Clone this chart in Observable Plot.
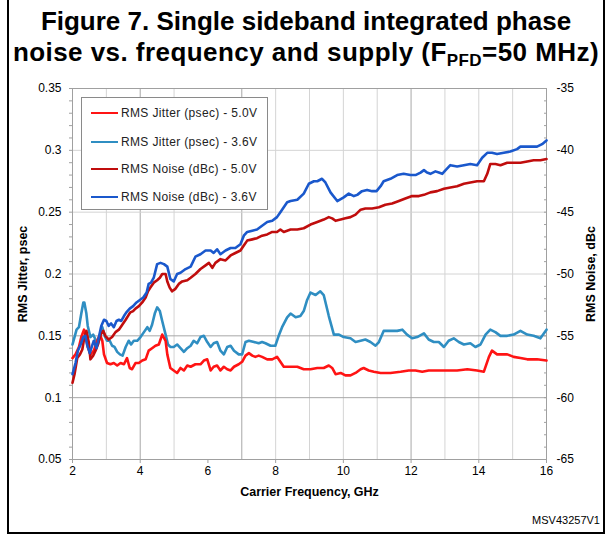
<!DOCTYPE html>
<html>
<head>
<meta charset="utf-8">
<script src="https://cdn.jsdelivr.net/npm/d3@7"></script>
<script src="https://cdn.jsdelivr.net/npm/@observablehq/plot@0.6"></script>
<style>
  html, body { margin: 0; padding: 0; background: #fff; }
  #wrap { position: relative; width: 612px; height: 536px; overflow: hidden; font-family: "Liberation Sans", Arial, sans-serif; }
  #border { position: absolute; left: 7px; top: -10px; width: 594px; height: 540px; border: 2px solid #000; box-sizing: content-box; }
  #title { position: absolute; left: 0; top: 6px; width: 612px; text-align: center; font-weight: bold; font-size: 26px; line-height: 31px; color: #000; white-space: nowrap; }
  #title .l2 { letter-spacing: 0.45px; }
  #title sub { font-size: 17px; vertical-align: -5px; line-height: 0; }
  #chart { position: absolute; left: 0; top: 70px; }
  #legend { position: absolute; left: 81px; top: 97px; width: 185px; height: 111px; border: 1px solid #8a8a8a; background: #fff; font-size: 12px; letter-spacing: 0.35px; color: #222; }
  .entry { position: absolute; left: 9px; height: 14px; line-height: 14px; white-space: nowrap; }
  .swatch { display: inline-block; width: 27px; height: 0; border-top: 2.5px solid; vertical-align: middle; margin-right: 3px; position: relative; top: -1px; }
  #code { position: absolute; right: 12px; top: 514px; font-size: 11px; color: #000; }
</style>
</head>
<body>
<div id="wrap">
  <div id="border"></div>
  <div id="title"><div>Figure 7. Single sideband integrated phase</div><div class="l2">noise vs. frequency and supply (F<sub>PFD</sub>=50 MHz)</div></div>
  <div id="chart"></div>
  <div id="legend"></div>
  <div id="code">MSV43257V1</div>
</div>
<script>
// ---------- data ----------
const seriesNames = ["RMS Jitter (psec) - 5.0V", "RMS Jitter (psec) - 3.6V", "RMS Noise (dBc) - 5.0V", "RMS Noise (dBc) - 3.6V"];
const seriesColors = ["#ff1414", "#2f8ec2", "#c00d0d", "#1a58cc"];

// [GHz, psec]
const jitter50 = [[2.00,0.132],[2.09,0.135],[2.19,0.141],[2.26,0.149],[2.34,0.155],[2.38,0.151],[2.45,0.141],[2.53,0.135],[2.63,0.138],[2.73,0.146],[2.81,0.151],[2.88,0.146],[2.93,0.135],[3.02,0.128],[3.12,0.127],[3.22,0.128],[3.32,0.126],[3.42,0.128],[3.52,0.127],[3.61,0.132],[3.69,0.124],[3.76,0.123],[3.86,0.128],[3.96,0.128],[4.06,0.130],[4.16,0.131],[4.25,0.138],[4.35,0.140],[4.45,0.142],[4.55,0.143],[4.65,0.151],[4.75,0.146],[4.80,0.135],[4.89,0.124],[4.99,0.122],[5.09,0.120],[5.19,0.124],[5.29,0.122],[5.39,0.126],[5.49,0.125],[5.63,0.127],[5.78,0.127],[5.88,0.130],[5.98,0.131],[6.08,0.122],[6.17,0.125],[6.27,0.126],[6.37,0.122],[6.47,0.125],[6.57,0.123],[6.67,0.122],[6.77,0.125],[6.91,0.127],[7.01,0.129],[7.11,0.134],[7.21,0.136],[7.31,0.134],[7.40,0.133],[7.50,0.134],[7.60,0.133],[7.75,0.131],[7.90,0.131],[8.04,0.133],[8.14,0.129],[8.24,0.125],[8.39,0.125],[8.64,0.125],[8.83,0.123],[9.03,0.123],[9.23,0.124],[9.42,0.124],[9.57,0.126],[9.67,0.124],[9.77,0.119],[9.92,0.120],[10.06,0.118],[10.21,0.118],[10.36,0.120],[10.51,0.123],[10.60,0.124],[10.75,0.122],[10.90,0.121],[11.10,0.120],[11.39,0.120],[11.69,0.121],[11.93,0.122],[12.13,0.122],[12.33,0.121],[12.52,0.122],[12.77,0.122],[13.06,0.122],[13.36,0.122],[13.66,0.123],[13.95,0.122],[14.15,0.121],[14.30,0.133],[14.39,0.138],[14.54,0.135],[14.69,0.135],[14.84,0.135],[15.03,0.133],[15.23,0.132],[15.43,0.131],[15.72,0.131],[16.00,0.130]];

const jitter36 = [[2.00,0.143],[2.06,0.149],[2.12,0.155],[2.19,0.157],[2.26,0.168],[2.32,0.177],[2.35,0.177],[2.41,0.168],[2.45,0.158],[2.53,0.149],[2.61,0.151],[2.68,0.147],[2.75,0.143],[2.81,0.149],[2.88,0.157],[2.95,0.150],[3.02,0.146],[3.10,0.146],[3.17,0.142],[3.24,0.141],[3.32,0.137],[3.40,0.135],[3.48,0.134],[3.57,0.141],[3.66,0.146],[3.73,0.143],[3.81,0.146],[3.91,0.146],[4.01,0.149],[4.11,0.153],[4.21,0.157],[4.28,0.154],[4.35,0.159],[4.43,0.168],[4.50,0.173],[4.58,0.170],[4.65,0.162],[4.75,0.151],[4.82,0.143],[4.89,0.141],[4.99,0.141],[5.09,0.143],[5.19,0.140],[5.29,0.137],[5.39,0.140],[5.49,0.142],[5.58,0.146],[5.68,0.144],[5.78,0.149],[5.88,0.150],[5.98,0.145],[6.08,0.141],[6.17,0.144],[6.27,0.145],[6.37,0.138],[6.47,0.135],[6.57,0.141],[6.67,0.142],[6.77,0.138],[6.91,0.135],[7.01,0.135],[7.11,0.145],[7.21,0.146],[7.36,0.145],[7.50,0.144],[7.60,0.145],[7.70,0.144],[7.85,0.142],[7.99,0.142],[8.09,0.150],[8.19,0.157],[8.34,0.165],[8.44,0.168],[8.59,0.165],[8.73,0.166],[8.83,0.170],[8.93,0.179],[9.03,0.185],[9.18,0.183],[9.32,0.186],[9.42,0.183],[9.57,0.166],[9.72,0.151],[9.87,0.151],[10.01,0.149],[10.21,0.148],[10.36,0.145],[10.51,0.146],[10.65,0.147],[10.80,0.145],[10.95,0.142],[11.05,0.145],[11.19,0.154],[11.39,0.154],[11.59,0.154],[11.74,0.155],[11.88,0.151],[12.03,0.148],[12.18,0.149],[12.38,0.152],[12.52,0.147],[12.67,0.145],[12.82,0.145],[12.97,0.141],[13.11,0.146],[13.26,0.148],[13.41,0.145],[13.56,0.143],[13.75,0.144],[13.90,0.141],[14.05,0.143],[14.20,0.151],[14.34,0.155],[14.49,0.153],[14.64,0.150],[14.84,0.150],[15.03,0.151],[15.23,0.154],[15.43,0.151],[15.62,0.150],[15.82,0.148],[16.00,0.155]];

// [GHz, dBc]
const noise50 = [[2.00,-58.8],[2.06,-58.1],[2.14,-56.8],[2.22,-56.5],[2.29,-56.1],[2.35,-55.1],[2.41,-54.6],[2.48,-55.5],[2.53,-56.9],[2.61,-56.6],[2.68,-56.2],[2.75,-55.7],[2.83,-54.9],[2.91,-54.6],[2.97,-55.0],[3.07,-55.3],[3.17,-55.1],[3.27,-54.7],[3.37,-54.5],[3.47,-54.1],[3.57,-53.7],[3.66,-53.3],[3.71,-53.1],[3.79,-53.0],[3.86,-52.8],[3.96,-52.6],[4.06,-52.3],[4.16,-51.9],[4.23,-51.4],[4.30,-51.1],[4.40,-50.7],[4.50,-50.5],[4.58,-50.3],[4.65,-50.0],[4.75,-50.0],[4.80,-50.6],[4.87,-51.1],[4.94,-51.4],[5.04,-51.2],[5.14,-50.8],[5.24,-50.6],[5.39,-50.5],[5.49,-50.3],[5.63,-50.0],[5.78,-49.6],[5.93,-49.3],[6.03,-49.1],[6.13,-49.5],[6.22,-49.1],[6.37,-48.8],[6.52,-48.9],[6.67,-48.5],[6.81,-48.3],[6.96,-48.1],[7.06,-47.7],[7.16,-47.3],[7.31,-47.2],[7.45,-47.1],[7.60,-46.9],[7.75,-46.8],[7.90,-46.6],[8.04,-46.6],[8.14,-46.4],[8.24,-46.6],[8.34,-46.5],[8.44,-46.4],[8.64,-46.4],[8.83,-46.3],[9.03,-46.0],[9.23,-45.8],[9.42,-45.6],[9.57,-45.4],[9.67,-45.5],[9.77,-45.7],[9.92,-45.6],[10.06,-45.5],[10.21,-45.4],[10.36,-45.2],[10.51,-44.8],[10.65,-44.7],[10.85,-44.7],[11.05,-44.6],[11.24,-44.4],[11.44,-44.3],[11.64,-44.1],[11.83,-43.9],[12.03,-43.7],[12.23,-43.7],[12.38,-43.6],[12.57,-43.4],[12.77,-43.3],[12.97,-43.1],[13.16,-43.0],[13.36,-42.9],[13.56,-42.7],[13.75,-42.6],[13.95,-42.5],[14.15,-42.5],[14.25,-41.9],[14.34,-41.1],[14.49,-41.1],[14.64,-41.2],[14.84,-41.0],[15.03,-41.0],[15.23,-41.0],[15.43,-40.9],[15.62,-40.8],[15.82,-40.8],[16.00,-40.7]];

const noise36 = [[2.00,-58.1],[2.09,-57.2],[2.16,-56.2],[2.24,-55.7],[2.32,-55.1],[2.38,-55.0],[2.43,-55.7],[2.51,-56.4],[2.58,-55.8],[2.63,-55.4],[2.71,-56.0],[2.78,-55.1],[2.85,-54.2],[2.93,-53.7],[3.00,-53.8],[3.07,-54.2],[3.14,-54.0],[3.22,-54.3],[3.30,-53.8],[3.37,-53.7],[3.44,-53.8],[3.52,-53.4],[3.59,-53.1],[3.69,-52.8],[3.79,-52.6],[3.89,-52.3],[3.99,-52.1],[4.09,-51.9],[4.19,-51.5],[4.25,-50.8],[4.32,-50.7],[4.40,-50.3],[4.50,-49.2],[4.60,-49.1],[4.70,-49.2],[4.80,-49.4],[4.89,-50.4],[4.99,-50.6],[5.09,-50.0],[5.19,-49.9],[5.34,-49.6],[5.49,-49.4],[5.63,-48.6],[5.78,-48.4],[5.93,-48.1],[6.08,-48.1],[6.17,-48.3],[6.27,-48.0],[6.37,-48.4],[6.52,-48.1],[6.67,-47.9],[6.81,-47.9],[6.96,-47.6],[7.06,-46.9],[7.16,-46.6],[7.31,-46.5],[7.45,-46.4],[7.60,-46.1],[7.75,-45.8],[7.90,-45.7],[8.04,-45.4],[8.14,-45.0],[8.24,-44.6],[8.34,-44.2],[8.44,-44.1],[8.64,-44.0],[8.83,-43.5],[8.98,-42.7],[9.13,-42.5],[9.23,-42.5],[9.37,-42.3],[9.47,-42.6],[9.62,-43.4],[9.82,-44.1],[10.01,-43.8],[10.16,-43.5],[10.31,-43.7],[10.41,-43.6],[10.55,-43.3],[10.70,-43.2],[10.85,-43.3],[10.98,-43.3],[11.10,-42.9],[11.19,-42.5],[11.39,-42.3],[11.59,-42.0],[11.78,-41.9],[11.98,-42.0],[12.13,-42.0],[12.28,-41.8],[12.38,-41.6],[12.47,-41.8],[12.57,-41.9],[12.72,-41.7],[12.82,-41.8],[12.92,-41.9],[13.02,-41.6],[13.16,-41.2],[13.36,-41.3],[13.56,-41.2],[13.75,-41.1],[13.95,-41.2],[14.10,-40.6],[14.25,-40.2],[14.39,-40.2],[14.54,-40.3],[14.74,-40.2],[14.93,-40.1],[15.13,-39.9],[15.23,-39.7],[15.43,-39.7],[15.72,-39.7],[15.87,-39.5],[16.00,-39.2]];

const xTicks = [2, 4, 6, 8, 10, 12, 14, 16];
const xGridLight = [3, 5, 8, 9, 10, 11, 13, 14, 15];
const xGridDark = [4, 7, 12];
const yTicks = [0.05, 0.1, 0.15, 0.2, 0.25, 0.3, 0.35];
const yGridLight = [0.2, 0.25, 0.3];
const yGridDark = [0.1, 0.15];
const yMinor = d3.range(5, 36).map(v => v / 100);
const dbcTicks = [-65, -60, -55, -50, -45, -40, -35];
const dbcMinor = d3.range(-65, -34);

// right axis (dBc) aligned with left axis (psec): -65 dBc ↔ 0.05, -35 dBc ↔ 0.35
const dbcToJ = v => 0.05 + (v + 65) / 100;
const jToDbc = j => Math.round(-65 + (j - 0.05) * 100);

const font = '"Liberation Sans", Arial, sans-serif';

const chart = Plot.plot({
  width: 612,
  height: 466,
  marginLeft: 72,
  marginRight: 66,
  marginTop: 18,
  marginBottom: 77,
  style: { fontFamily: font, fontSize: "12px", color: "#000", background: "transparent", overflow: "visible" },
  x: { domain: [2, 16], axis: null },
  y: { domain: [0.05, 0.35], axis: null },
  marks: [
    Plot.ruleX(xGridLight, { stroke: "#d4d4d4", strokeWidth: 1 }),
    Plot.ruleX(xGridDark, { stroke: "#a8a8a8", strokeWidth: 1 }),
    Plot.ruleY(yGridLight, { stroke: "#d4d4d4", strokeWidth: 1 }),
    Plot.ruleY(yGridDark, { stroke: "#a8a8a8", strokeWidth: 1 }),
    Plot.frame({ stroke: "#a0a0a0", strokeWidth: 1 }),
    Plot.axisX(xTicks, { tickSize: 4, tickPadding: 3, label: null, stroke: "#a0a0a0", fontSize: 12 }),
    Plot.axisY(yTicks, { tickSize: 0, tickPadding: 11, label: null, fontSize: 12, tickFormat: d => String(+d.toFixed(2)) }),
    Plot.axisY(yMinor, { tickSize: 3, tickPadding: 0, label: null, stroke: "#a0a0a0", tickFormat: () => "" }),
    Plot.axisY(dbcTicks.map(dbcToJ), { anchor: "right", tickSize: 0, tickPadding: 10, label: null, fontSize: 12, tickFormat: d => String(jToDbc(d)) }),
    Plot.axisY(dbcMinor.map(dbcToJ), { anchor: "right", tickSize: -3, tickPadding: 0, label: null, stroke: "#a0a0a0", tickFormat: () => "" }),
    Plot.line(jitter36, { x: d => d[0], y: d => d[1], stroke: seriesColors[1], strokeWidth: 2.6 }),
    Plot.line(jitter50, { x: d => d[0], y: d => d[1], stroke: seriesColors[0], strokeWidth: 2.6 }),
    Plot.line(noise50, { x: d => d[0], y: d => dbcToJ(d[1]), stroke: seriesColors[2], strokeWidth: 2.6 }),
    Plot.line(noise36, { x: d => d[0], y: d => dbcToJ(d[1]), stroke: seriesColors[3], strokeWidth: 2.6 }),
    Plot.text(["Carrier Frequency, GHz"], { frameAnchor: "bottom", dy: 36, textAnchor: "middle", fontWeight: "bold", fontSize: 12.5, fill: "#000" }),
    Plot.text(["RMS Jitter, psec"], { frameAnchor: "left", dx: -50, rotate: -90, textAnchor: "middle", fontWeight: "bold", fontSize: 12.5, fill: "#000" }),
    Plot.text(["RMS Noise, dBc"], { frameAnchor: "right", dx: 44, rotate: -90, textAnchor: "middle", fontWeight: "bold", fontSize: 12.5, fill: "#000" })
  ]
});
document.getElementById("chart").appendChild(chart);

// legend
const legend = document.getElementById("legend");
const entryTops = [8, 37, 64, 92];
seriesNames.forEach((name, i) => {
  const e = document.createElement("div");
  e.className = "entry";
  e.style.top = entryTops[i] + "px";
  const s = document.createElement("span");
  s.className = "swatch";
  s.style.borderTopColor = seriesColors[i];
  e.appendChild(s);
  e.appendChild(document.createTextNode(name));
  legend.appendChild(e);
});
</script>
</body>
</html>
